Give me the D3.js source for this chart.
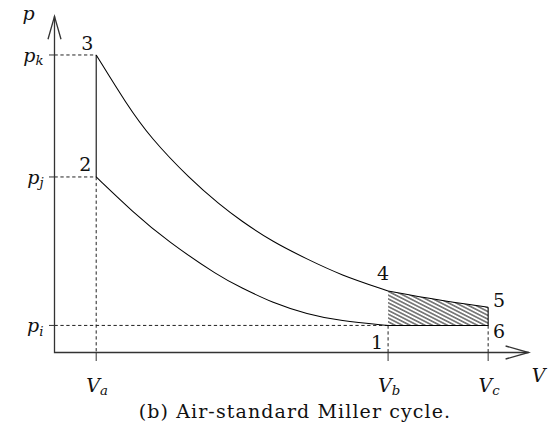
<!DOCTYPE html>
<html>
<head>
<meta charset="utf-8">
<script src="https://cdn.jsdelivr.net/npm/d3@7"></script>
<style>
  html, body { margin: 0; padding: 0; background: #fff; }
  svg { display: block; }
</style>
</head>
<body>
<svg id="chart" width="556" height="437"></svg>
<script>
// volume / pressure levels marked on the axes
const vTicks = [
    { sub: "a", v: 1 },
    { sub: "b", v: 8 },
    { sub: "c", v: 10.4 }
];
const pTicks = [
    { sub: "k", p: 10 },
    { sub: "j", p: 5.9 },
    { sub: "i", p: 0.91 }
];

// 3 -> 4 expansion
const expV = [1, 1.74, 2.29, 3.25, 3.97, 4.45, 5.24, 6.06, 6.85, 8];
const expP = [10, 8.32, 7.24, 5.83, 4.96, 4.45, 3.71, 3.14, 2.61, 2.07];

// 2 -> 1 compression
const compV = [1, 1.88, 2.70, 3.97, 4.45, 5.24, 6.06, 6.85, 8];
const compP = [5.9, 4.72, 3.75, 2.54, 2.20, 1.66, 1.29, 1.06, 0.91];

// 4 -> 5 extended expansion
const tailV = [8, 9.2, 10.4];
const tailP = [2.07, 1.76, 1.52];

// numbered states
const states = [
    { id: "1", v: 8, p: 0.91 },
    { id: "2", v: 1, p: 5.9 },
    { id: "3", v: 1, p: 10 },
    { id: "4", v: 8, p: 2.07 },
    { id: "5", v: 10.4, p: 1.52 },
    { id: "6", v: 10.4, p: 0.91 }
];

const caption = "(b) Air-standard Miller cycle.";

var svg = d3.select("#chart"),
    fontSize = 19,
    serif = "'DejaVu Serif', 'Liberation Serif', serif"

var x = d3.scaleLinear().domain([0, 11.37]).range([54.5, 528.6]),
    y = d3.scaleLinear().domain([0, 11.3]).range([352.5, 16.3])

var zip = (vs, ps) => vs.map((v, i) => ({ v: v, p: ps[i] }))

var line = d3.line()
    .x(d => x(d.v))
    .y(d => y(d.p))
    .curve(d3.curveBasis)

// hatch pattern for the extra work area
var defs = svg.append("defs")
var pat = defs.append("pattern")
    .attr("id", "hatch")
    .attr("patternUnits", "userSpaceOnUse")
    .attr("width", 3.4)
    .attr("height", 3.4)
    .attr("patternTransform", "rotate(27)")
pat.append("line")
    .attr("x1", -1).attr("x2", 5)
    .attr("y1", 1.7).attr("y2", 1.7)
    .attr("stroke", "#000")
    .attr("stroke-width", 0.9)

var g = svg.append("g")
    .attr("font-family", serif)
    .attr("fill", "#111")

// hatched region 4-5-6-1
var tail = zip(tailV, tailP)
var s1 = states.find(d => d.id === "1"), s6 = states.find(d => d.id === "6")
g.append("path")
    .attr("d", line(tail) + "L" + x(s6.v) + "," + y(s6.p) + "L" + x(s1.v) + "," + y(s1.p) + "Z")
    .attr("fill", "url(#hatch)")
    .attr("stroke", "none")

// dashed guides
var dash = g.append("g")
    .attr("stroke", "#222")
    .attr("stroke-width", 1)
    .attr("stroke-dasharray", "3.3,2.6")
    .attr("fill", "none")

var guideH = [
    { p: pTicks[0].p, v: vTicks[0].v },
    { p: pTicks[1].p, v: vTicks[0].v },
    { p: pTicks[2].p, v: vTicks[1].v }
]
dash.selectAll("line.h")
    .data(guideH)
    .enter()
    .append("line")
    .attr("x1", x(0)).attr("x2", d => x(d.v))
    .attr("y1", d => y(d.p)).attr("y2", d => y(d.p))

var guideV = [
    { v: vTicks[0].v, p: pTicks[1].p },
    { v: vTicks[1].v, p: pTicks[2].p },
    { v: vTicks[2].v, p: pTicks[2].p }
]
dash.selectAll("line.v")
    .data(guideV)
    .enter()
    .append("line")
    .attr("x1", d => x(d.v)).attr("x2", d => x(d.v))
    .attr("y1", d => y(d.p)).attr("y2", y(0))

// axes
var axis = g.append("g")
    .attr("stroke", "#333")
    .attr("stroke-width", 1.3)
    .attr("fill", "none")

var x0 = x(0), y0 = y(0), xEnd = x.range()[1], yEnd = y.range()[1]
axis.append("path").attr("d", "M" + x0 + "," + yEnd + "V" + y0 + "H" + xEnd)
axis.append("path").attr("d", "M" + (x0 - 6.5) + "," + (yEnd + 23) + "L" + x0 + "," + yEnd + "L" + (x0 + 6.5) + "," + (yEnd + 23))
axis.append("path").attr("d", "M" + (xEnd - 23) + "," + (y0 - 6.5) + "L" + xEnd + "," + y0 + "L" + (xEnd - 23) + "," + (y0 + 6.5))

axis.selectAll("line.ytick")
    .data(pTicks)
    .enter()
    .append("line")
    .attr("x1", x0 - 5.5).attr("x2", x0)
    .attr("y1", d => y(d.p)).attr("y2", d => y(d.p))
    .attr("stroke-width", 1)

axis.selectAll("line.xtick")
    .data(vTicks)
    .enter()
    .append("line")
    .attr("x1", d => x(d.v)).attr("x2", d => x(d.v))
    .attr("y1", y0).attr("y2", y0 + 8.5)
    .attr("stroke-width", 1)

// cycle lines
var cyc = g.append("g")
    .attr("stroke", "#000")
    .attr("stroke-width", 1.05)
    .attr("fill", "none")

cyc.append("path").attr("d", line(zip(expV, expP)))
cyc.append("path").attr("d", line(zip(compV, compP)))
cyc.append("path").attr("d", line(tail))

var s2 = states.find(d => d.id === "2"), s3 = states.find(d => d.id === "3"), s5 = states.find(d => d.id === "5")
cyc.append("path").attr("d", "M" + x(s2.v) + "," + y(s2.p) + "L" + x(s3.v) + "," + y(s3.p))
cyc.append("path").attr("d", "M" + x(s5.v) + "," + y(s5.p) + "L" + x(s6.v) + "," + y(s6.p) + "L" + x(s1.v) + "," + y(s1.p))

// state numbers
var labelOff = { "1": [-11, 24], "2": [-11, -6], "3": [-9, -5], "4": [-5, -11], "5": [11, 0], "6": [11, 13] }
g.selectAll("text.state")
    .data(states)
    .enter()
    .append("text")
    .attr("class", "state")
    .attr("x", d => x(d.v) + labelOff[d.id][0])
    .attr("y", d => y(d.p) + labelOff[d.id][1])
    .attr("text-anchor", "middle")
    .attr("font-size", fontSize)
    .text(d => d.id)

// subscripted math labels
var mathLabel = (sel, base, sub) => {
    sel.append("tspan").text(base)
    sel.append("tspan")
        .attr("dy", 3.5)
        .attr("font-size", fontSize * 0.7)
        .text(sub)
}

g.selectAll("text.plab")
    .data(pTicks)
    .enter()
    .append("text")
    .attr("font-style", "italic")
    .attr("x", x0 - 11)
    .attr("y", d => y(d.p) + 7)
    .attr("text-anchor", "end")
    .attr("font-size", fontSize)
    .each(function(d) { mathLabel(d3.select(this), "p", d.sub) })

g.selectAll("text.vlab")
    .data(vTicks)
    .enter()
    .append("text")
    .attr("font-style", "italic")
    .attr("x", d => x(d.v) + 1)
    .attr("y", y0 + 39)
    .attr("text-anchor", "middle")
    .attr("font-size", fontSize)
    .each(function(d) { mathLabel(d3.select(this), "V", d.sub) })

g.append("text")
    .attr("font-style", "italic")
    .attr("x", x0 - 26)
    .attr("y", yEnd + 4)
    .attr("text-anchor", "middle")
    .attr("font-size", fontSize)
    .text("p")

g.append("text")
    .attr("font-style", "italic")
    .attr("x", xEnd + 10)
    .attr("y", y0 + 29)
    .attr("text-anchor", "middle")
    .attr("font-size", fontSize)
    .text("V")

g.append("text")
    .attr("x", 295)
    .attr("y", 418)
    .attr("text-anchor", "middle")
    .attr("font-size", 19)
    .attr("letter-spacing", 1.1)
    .text(caption)
</script>
</body>
</html>
